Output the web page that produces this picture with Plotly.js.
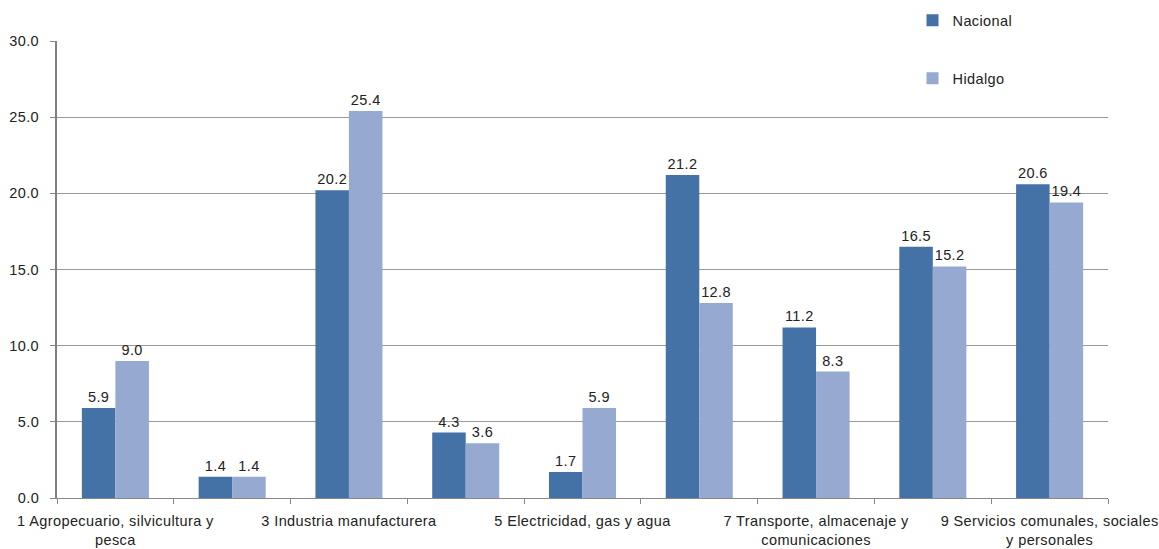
<!DOCTYPE html>
<html>
<head>
<meta charset="utf-8">
<script src="https://cdn.plot.ly/plotly-3.0.1.min.js"></script>
<style>
html,body{margin:0;padding:0;background:#fff;}
#chart{width:1159px;height:549px;}
#chart text{letter-spacing:0.4px;}
</style>
</head>
<body>
<div id="chart"></div>
<script>
const categories = [
  "1 Agropecuario, silvicultura y pesca",
  "2 Minería",
  "3 Industria manufacturera",
  "4 Construcción",
  "5 Electricidad, gas y agua",
  "6 Comercio, restaurantes y hoteles",
  "7 Transporte, almacenaje y comunicaciones",
  "8 Servicios financieros, seguros, actividades inmobiliarias y de alquiler",
  "9 Servicios comunales, sociales y personales"
];
const tickLabels = [
  "1 Agropecuario, silvicultura y<br>pesca",
  "",
  "3 Industria manufacturera",
  "",
  "5 Electricidad, gas y agua",
  "",
  "7 Transporte, almacenaje y<br>comunicaciones",
  "",
  "9 Servicios comunales, sociales<br>y personales"
];
const nacional = [5.9, 1.4, 20.2, 4.3, 1.7, 21.2, 11.2, 16.5, 20.6];
const hidalgo = [9.0, 1.4, 25.4, 3.6, 5.9, 12.8, 8.3, 15.2, 19.4];

const fontFam = '"Liberation Sans", Arial, sans-serif';
const textCol = '#222222';
const fs = 14.5;

const traces = [
  {
    type: 'bar', name: 'Nacional', x: categories, y: nacional,
    marker: {color: '#4472A7'},
    texttemplate: '%{y:.1f}', textposition: 'outside', cliponaxis: false,
    textfont: {family: fontFam, size: fs, color: textCol},
    legendgroup: 'a'
  },
  {
    type: 'bar', name: 'Hidalgo', x: categories, y: hidalgo,
    marker: {color: '#95A9D1'},
    texttemplate: '%{y:.1f}', textposition: 'outside', cliponaxis: false,
    textfont: {family: fontFam, size: fs, color: textCol},
    legendgroup: 'b'
  }
];

const layout = {
  width: 1159, height: 549,
  margin: {l: 57, r: 51, t: 41, b: 51, pad: 0, autoexpand: false},
  paper_bgcolor: '#ffffff', plot_bgcolor: '#ffffff',
  font: {family: fontFam, size: fs, color: textCol},
  barmode: 'group', bargap: 0.426, bargroupgap: 0,
  showlegend: true,
  legend: {
    x: 0.814, xanchor: 'left', y: 1.08, yanchor: 'top',
    orientation: 'v', traceorder: 'grouped', tracegroupgap: 36,
    font: {family: fontFam, size: fs, color: textCol},
    bgcolor: 'rgba(0,0,0,0)', itemwidth: 30
  },
  xaxis: {
    type: 'category',
    tickvals: categories, ticktext: tickLabels,
    tickson: 'boundaries', ticks: 'outside', ticklen: 5, tickcolor: '#888888',
    tickangle: 0, showgrid: false, ticklabelstandoff: 10,
    showline: true, linecolor: '#888888', linewidth: 1,
    tickfont: {family: fontFam, size: fs, color: textCol},
    automargin: false
  },
  yaxis: {
    range: [0, 30], dtick: 5, tickformat: '.1f',
    ticks: 'outside', ticklen: 5, tickcolor: '#888888',
    showgrid: true, gridcolor: '#999999', gridwidth: 1,
    showline: true, linecolor: '#808080', linewidth: 2,
    zeroline: false, ticklabelstandoff: 8,
    tickfont: {family: fontFam, size: fs, color: textCol},
    automargin: false
  }
};

Plotly.newPlot('chart', traces, layout, {displayModeBar: false, staticPlot: true});
</script>
</body>
</html>
